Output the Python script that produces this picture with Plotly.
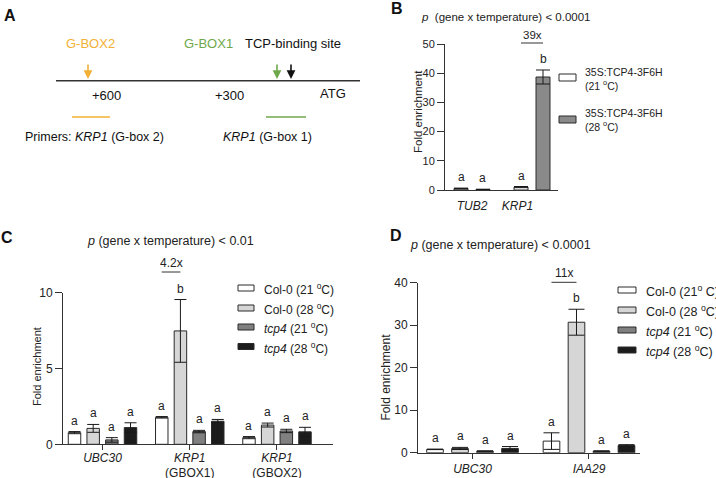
import plotly.graph_objects as go
import numpy as np

W, H = 716, 478
FONT = "Liberation Sans, Arial, sans-serif"
TXT = "#222222"

# ---------------- data ----------------
# Panel B
b_genes = ["<i>TUB2</i>", "<i>KRP1</i>"]
b_series = ["35S:TCP4-3F6H<br>(21 <sup>o</sup>C)", "35S:TCP4-3F6H<br>(28 <sup>o</sup>C)"]
b_means = [[0.5, 1.0], [0.2, 38.7]]
b_errs = [[0.15, 0.2], [0.05, 2.4]]
b_letters = [["a", "a"], ["a", "b"]]
b_colors = ["#ffffff", "#8a8a8a"]

# Panel C
c_genes = ["<i>UBC30</i>", "<i>KRP1</i><br>(GBOX1)", "<i>KRP1</i><br>(GBOX2)"]
c_series = ["Col-0 (21 <sup>o</sup>C)", "Col-0 (28 <sup>o</sup>C)",
            "<i>tcp4</i> (21 <sup>o</sup>C)", "<i>tcp4</i> (28 <sup>o</sup>C)"]
c_means = [[0.77, 1.78, 0.44], [1.05, 7.48, 1.27], [0.29, 0.84, 0.88], [1.10, 1.52, 0.82]]
c_errs = [[0.07, 0.05, 0.07], [0.26, 2.07, 0.13], [0.15, 0.08, 0.11], [0.32, 0.12, 0.30]]
c_letters = [["a", "a", "a"], ["a", "b", "a"], ["a", "a", "a"], ["a", "a", "a"]]

# Panel D
d_genes = ["<i>UBC30</i>", "<i>IAA29</i>"]
d_series = ["Col-0 (21<sup>o</sup> C)", "Col-0 (28 <sup>o</sup>C)",
            "<i>tcp4</i> (21 <sup>o</sup>C)", "<i>tcp4</i> (28 <sup>o</sup>C)"]
d_means = [[0.78, 2.73], [1.0, 30.7], [0.35, 0.35], [1.0, 1.7]]
d_errs = [[0.05, 1.95], [0.25, 3.05], [0.10, 0.10], [0.45, 0.20]]
d_letters = [["a", "a"], ["a", "b"], ["a", "a"], ["a", "a"]]

cd_colors = ["#ffffff", "#d6d6d6", "#808080", "#1c1c1c"]

# fold-change label, gene index, series pair
fold_labels = {"B": ("39x", 1, 0, 1), "C": ("4.2x", 1, 0, 1), "D": ("11x", 1, 0, 1)}

# ---------------- layout geometry (pixels) ----------------
def px(x):
    return x / W


def py(y):
    return 1 - y / H


panels = {
    "B": dict(ax="", x0=445, x1=558, y0=44, y1=190, xr=[-0.45, 1.433], yr=[0, 50], dtick=10,
              step=0.366, bw=0.233, cap=7, tickfs=11, catfs=12, bracket_y=43, lblstand=5,
              ytitle=(418, 112, 11.5)),
    "C": dict(ax="2", x0=63, x1=333, y0=292.7, y1=444.3, xr=[-0.453, 2.642], yr=[0, 10], dtick=5,
              step=0.214, bw=0.143, cap=6, tickfs=12, catfs=12, bracket_y=272, lblstand=-3,
              ytitle=(37, 367, 11)),
    "D": dict(ax="3", x0=418, x1=640, y0=282.7, y1=452.7, xr=[-0.468, 1.438], yr=[0, 40], dtick=10,
              step=0.2146, bw=0.143, cap=8, tickfs=12, catfs=12, bracket_y=282.3, lblstand=0,
              ytitle=(385, 377.5, 12)),
}

fig = go.Figure()
annotations = []
shapes = []


def data_to_px_x(p, xv):
    g = panels[p]
    return g["x0"] + (xv - g["xr"][0]) / (g["xr"][1] - g["xr"][0]) * (g["x1"] - g["x0"])


def add_panel(p, genes, means, errs, letters, colors, names):
    g = panels[p]
    n = len(means)
    xs_all = []
    for i in range(n):
        offset = (i - (n - 1) / 2) * g["step"]
        xs = np.arange(len(genes)) + offset
        xs_all.append(xs)
        fig.add_trace(go.Bar(
            x=xs, y=means[i], width=g["bw"], name=names[i],
            marker=dict(color=colors[i], line=dict(color="#2a2a2a", width=1)),
            error_y=dict(type="data", array=errs[i], visible=True, color="#1a1a1a",
                         thickness=1, width=g["cap"]),
            xaxis="x" + g["ax"], yaxis="y" + g["ax"], showlegend=False,
        ))
        for j in range(len(genes)):
            annotations.append(dict(
                x=xs[j], y=means[i][j] + errs[i][j], xref="x" + g["ax"], yref="y" + g["ax"],
                text=letters[i][j], showarrow=False, xanchor="center", yanchor="bottom", yshift=2,
                font=dict(size=12, color=TXT, family=FONT)))
    return xs_all


b_xs = add_panel("B", b_genes, b_means, b_errs, b_letters, b_colors, b_series)
c_xs = add_panel("C", c_genes, c_means, c_errs, c_letters, cd_colors, c_series)
d_xs = add_panel("D", d_genes, d_means, d_errs, d_letters, cd_colors, d_series)

# fold-change brackets
for p, xs, fs in (("B", b_xs, 11.5), ("C", c_xs, 12), ("D", d_xs, 12)):
    label, gi, s0, s1 = fold_labels[p]
    g = panels[p]
    xa = data_to_px_x(p, xs[s0][gi])
    xb = data_to_px_x(p, xs[s1][gi])
    shapes.append(dict(type="line", xref="paper", yref="paper",
                       x0=px(xa), x1=px(xb), y0=py(g["bracket_y"]), y1=py(g["bracket_y"]),
                       line=dict(color="#333", width=1)))
    annotations.append(dict(x=px((xa + xb) / 2), y=py(g["bracket_y"]), xref="paper", yref="paper",
                            text=label, showarrow=False, xanchor="center", yanchor="bottom",
                            yshift=0, font=dict(size=fs, color=TXT, family=FONT)))

# axes
axis_common = dict(showline=True, linecolor="#333", linewidth=1, showgrid=False,
                   zeroline=False, automargin=False, fixedrange=True)
layout_axes = {}
for p, genes, tv in (("B", b_genes, [0, 0.758]), ("C", c_genes, [0, 1, 2]), ("D", d_genes, [0, 1])):
    g = panels[p]
    layout_axes["xaxis" + g["ax"]] = dict(
        axis_common, domain=[px(g["x0"]), px(g["x1"])], range=g["xr"], anchor="y" + g["ax"],
        tickvals=tv, ticktext=genes, ticks="" if p == "B" else "outside", ticklen=5,
        ticklabelstandoff=g["lblstand"],
        tickcolor="#333", tickfont=dict(size=g["catfs"], color=TXT, family=FONT))
    layout_axes["yaxis" + g["ax"]] = dict(
        axis_common, domain=[py(g["y1"]), py(g["y0"])], range=g["yr"], anchor="x" + g["ax"],
        tick0=0, dtick=g["dtick"], ticks="outside", ticklen=7, tickcolor="#333",
        tickfont=dict(size=g["tickfs"], color=TXT, family=FONT))
    tx, ty, tfs = g["ytitle"]
    annotations.append(dict(x=px(tx), y=py(ty), xref="paper", yref="paper", text="Fold enrichment",
                            textangle=-90, showarrow=False, xanchor="center", yanchor="middle",
                            font=dict(size=tfs, color=TXT, family=FONT)))

# titles
for x, y, t, fs in ((505, 17, "<i>p</i>  (gene x temperature) < 0.0001", 11.5),
                    (170, 241, "<i>p</i> (gene x temperature) < 0.01", 12.5),
                    (500, 245, "<i>p</i> (gene x temperature) < 0.0001", 12.5)):
    annotations.append(dict(x=px(x), y=py(y), xref="paper", yref="paper", text=t,
                            showarrow=False, xanchor="center", yanchor="middle",
                            font=dict(size=fs, color=TXT, family=FONT)))

# panel letters
for x, y, t in ((10, 15, "A"), (397, 8, "B"), (7, 237, "C"), (396, 235, "D")):
    annotations.append(dict(x=px(x), y=py(y), xref="paper", yref="paper", text="<b>%s</b>" % t,
                            showarrow=False, xanchor="center", yanchor="middle",
                            font=dict(size=16, color="#111", family=FONT)))


# legends (drawn as swatches + labels)
def legend(names, colors, bx0, bx1, rows, bh, tx, fs):
    for nm, col, r in zip(names, colors, rows):
        shapes.append(dict(type="rect", xref="paper", yref="paper",
                           x0=px(bx0), x1=px(bx1), y0=py(r + bh / 2 - 1), y1=py(r - bh / 2 - 1),
                           fillcolor=col, line=dict(color="#2a2a2a", width=1)))
        annotations.append(dict(x=px(tx), y=py(r), xref="paper", yref="paper", text=nm,
                                showarrow=False, xanchor="left", yanchor="middle", align="left",
                                font=dict(size=fs, color=TXT, family=FONT)))


legend(b_series, b_colors, 559, 576, [78.5, 120.5], 7, 583, 10.5)
legend(c_series, cd_colors, 238, 254, [289, 309, 328, 347.5], 6, 262, 12)
legend(d_series, cd_colors, 618, 636, [291, 311, 331, 351], 6, 644, 12.5)

# ---------------- panel A diagram ----------------
YEL = "#F2B134"
GRN = "#6FA84B"
shapes.append(dict(type="line", xref="paper", yref="paper", x0=px(56), x1=px(360),
                   y0=py(80.7), y1=py(80.7), line=dict(color="#333", width=1.5)))
shapes.append(dict(type="line", xref="paper", yref="paper", x0=px(72), x1=px(110),
                   y0=py(117), y1=py(117), line=dict(color=YEL, width=1.6)))
shapes.append(dict(type="line", xref="paper", yref="paper", x0=px(266), x1=px(306),
                   y0=py(117), y1=py(117), line=dict(color=GRN, width=1.6)))
for x, col in ((88, YEL), (277, GRN), (291, "#111")):
    annotations.append(dict(x=px(x), y=py(79), xref="paper", yref="paper", text="",
                            showarrow=True, ax=0, ay=-16, arrowhead=2, arrowsize=1.1,
                            arrowwidth=1.6, arrowcolor=col))
for x, y, t, col, anc, fs in ((90, 43, "G-BOX2", YEL, "center", 13),
                              (208, 43, "G-BOX1", GRN, "center", 13),
                              (243, 43, "TCP-binding site", "#111", "left", 13),
                              (106, 95, "+600", "#111", "center", 13),
                              (229, 96, "+300", "#111", "center", 13),
                              (333, 93, "ATG", "#111", "center", 13),
                              (23, 137, "Primers: <i>KRP1</i> (G-box 2)", "#111", "left", 12.5),
                              (221, 137, "<i>KRP1</i> (G-box 1)", "#111", "left", 12.5)):
    annotations.append(dict(x=px(x), y=py(y), xref="paper", yref="paper", text=t, showarrow=False,
                            xanchor=anc, yanchor="middle",
                            font=dict(size=fs, color=col, family=FONT)))

fig.update_layout(
    width=W, height=H, margin=dict(l=0, r=0, t=0, b=0, autoexpand=False),
    paper_bgcolor="white", plot_bgcolor="rgba(0,0,0,0)",
    barmode="overlay", font=dict(family=FONT, color=TXT), showlegend=False,
    annotations=annotations, shapes=shapes, **layout_axes,
)
fig.write_html("out.html", config={"displayModeBar": False},
               post_script="document.body.style.margin='0px';document.body.style.padding='0px';")
